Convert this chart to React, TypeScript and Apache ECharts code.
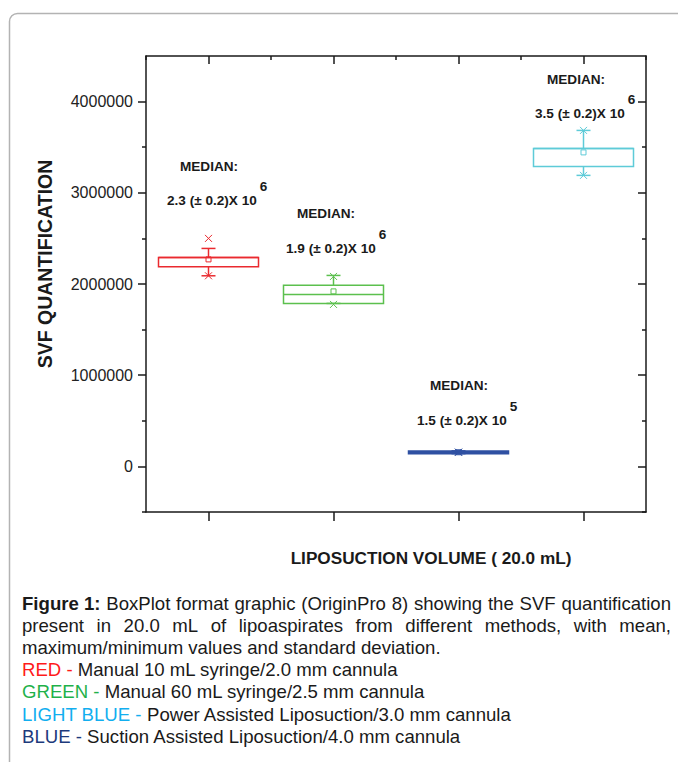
import React, { useEffect, useRef } from 'react';
import * as echarts from 'echarts';

// ---- data ----
const categories = ['RED', 'GREEN', 'BLUE', 'LIGHT BLUE'];
const boxColors = ['#ea2a2f', '#5cc04e', '#2f50a2', '#5ecbd8'];
const whiskerLow = [2090000, 1787000, 140000, 3191000];
const q1 = [2190000, 1787000, 140000, 3289000];
const median = [2290000, 1886000, 155000, 3487000];
const q3 = [2290000, 1985000, 170000, 3487000];
const whiskerHigh = [2390000, 2094000, 170000, 3684000];
const means = [2270000, 1919000, 155000, 3443000];
const minMarks = [2090000, 1776000, 155000, 3191000];
const maxMarks = [2500000, 2083000, 155000, 3684000];

const yMin = -500000;
const yMax = 4500000;
const majorTicks = [0, 1000000, 2000000, 3000000, 4000000];
const minorTicks = [-500000, 500000, 1500000, 2500000, 3500000];

const medianValues = ['2.3', '1.9', '1.5', '3.5'];
const medianExponents = ['6', '6', '5', '6'];

const captionLine1 = 'BoxPlot format graphic (OriginPro 8) showing the SVF quantification';
const captionLine2 = 'present in 20.0 mL of lipoaspirates from different methods, with mean,';
const captionLine3 = 'maximum/minimum values and standard deviation.';
const legendNames = ['RED', 'GREEN', 'LIGHT BLUE', 'BLUE'];
const legendDescs = [
  'Manual 10 mL syringe/2.0 mm cannula',
  'Manual 60 mL syringe/2.5 mm cannula',
  'Power Assisted Liposuction/3.0 mm cannula',
  'Suction Assisted Liposuction/4.0 mm cannula',
];
const legendColors = ['#ff1a1a', '#1fb14a', '#12aeef', '#1d3a7c'];

// ---- layout / style ----
const FF = '"Liberation Sans", Arial, sans-serif';
const CAP_FS = 18.6;
const NOTE_FS = 13.6;
const AXIS_COLOR = '#1a1a1a';
// annotation positions (pixel layout of the text notes)
const notePos = [
  { mx: 209, my: 166, lx: 167, ly: 200 },
  { mx: 326, my: 213, lx: 286, ly: 248 },
  { mx: 459, my: 385, lx: 417, ly: 420 },
  { mx: 576, my: 79, lx: 535, ly: 113 },
];

function measure(text: string, font: string) {
  const c = document.createElement('canvas').getContext('2d') as CanvasRenderingContext2D;
  c.font = font;
  return c.measureText(text).width;
}

function justifyLine(words: { t: string; bold?: boolean }[], x0: number, x1: number, y: number) {
  const fonts = words.map((w) => `${w.bold ? 'bold ' : ''}${CAP_FS}px ${FF}`);
  const widths = words.map((w, i) => measure(w.t, fonts[i]));
  const total = widths.reduce((a, b) => a + b, 0);
  const gap = (x1 - x0 - total) / (words.length - 1);
  let x = x0;
  return words.map((w, i) => {
    const el = {
      type: 'text',
      x,
      y,
      style: {
        text: w.t,
        font: fonts[i],
        fill: '#1a1a1a',
        textAlign: 'left',
        textVerticalAlign: 'middle',
      },
    };
    x += widths[i] + gap;
    return el;
  });
}

export default function App() {
  const ref = useRef<HTMLDivElement>(null);
  useEffect(() => {
    document.body.style.margin = '0';
    const chart = echarts.init(ref.current as HTMLDivElement, null, { renderer: 'svg' });

    const data = categories.map((_, i) => [
      i,
      whiskerLow[i],
      q1[i],
      median[i],
      q3[i],
      whiskerHigh[i],
      means[i],
      minMarks[i],
      maxMarks[i],
    ]);

    const cross = (cx: number, cy: number, s: number, color: string) => [
      { type: 'line', shape: { x1: cx - s, y1: cy - s, x2: cx + s, y2: cy + s }, style: { stroke: color, lineWidth: 1 } },
      { type: 'line', shape: { x1: cx - s, y1: cy + s, x2: cx + s, y2: cy - s }, style: { stroke: color, lineWidth: 1 } },
    ];

    const renderItem = (params: any, api: any) => {
      const i = params.dataIndex;
      const cat = api.value(0);
      const color = boxColors[i];
      const band = api.size([1, 0])[0];
      const bw = band * 0.8;
      const cx = api.coord([cat, 0])[0];
      const py = (v: number) => api.coord([cat, v])[1];
      const yWl = py(api.value(1));
      const yQ1 = py(api.value(2));
      const yMed = py(api.value(3));
      const yQ3 = py(api.value(4));
      const yWh = py(api.value(5));
      const yMean = py(api.value(6));
      const yMn = py(api.value(7));
      const yMx = py(api.value(8));
      const capHalf = 7;
      const st = { stroke: color, lineWidth: 1.5, fill: null };
      const children: any[] = [
        { type: 'line', shape: { x1: cx, y1: yQ3, x2: cx, y2: yWh }, style: st },
        { type: 'line', shape: { x1: cx, y1: yQ1, x2: cx, y2: yWl }, style: st },
        { type: 'line', shape: { x1: cx - capHalf, y1: yWh, x2: cx + capHalf, y2: yWh }, style: st },
        { type: 'line', shape: { x1: cx - capHalf, y1: yWl, x2: cx + capHalf, y2: yWl }, style: st },
        {
          type: 'rect',
          shape: { x: cx - bw / 2, y: yQ3, width: bw, height: yQ1 - yQ3 },
          style: { stroke: color, lineWidth: 1.5, fill: i === 2 ? color : 'rgba(255,255,255,0)' },
        },
        { type: 'line', shape: { x1: cx - bw / 2, y1: yMed, x2: cx + bw / 2, y2: yMed }, style: st },
        {
          type: 'rect',
          shape: { x: cx - 2.5, y: yMean - 2.5, width: 5, height: 5 },
          style: { stroke: color, lineWidth: 1, fill: 'rgba(255,255,255,0)' },
        },
        ...cross(cx, yMn, 3.5, color),
        ...cross(cx, yMx, 3.5, color),
      ];
      return { type: 'group', children };
    };

    const noteGraphics: any[] = [];
    notePos.forEach((p, i) => {
      const line2 = `${medianValues[i]} (± 0.2)X 10`;
      const fN = `bold ${NOTE_FS}px ${FF}`;
      const w2 = measure(line2, fN);
      noteGraphics.push({
        type: 'text',
        x: p.mx,
        y: p.my,
        style: { text: 'MEDIAN:', font: fN, fill: '#1a1a1a', textAlign: 'center', textVerticalAlign: 'middle' },
      });
      noteGraphics.push({
        type: 'text',
        x: p.lx,
        y: p.ly,
        style: { text: line2, font: fN, fill: '#1a1a1a', textAlign: 'left', textVerticalAlign: 'middle' },
      });
      noteGraphics.push({
        type: 'text',
        x: p.lx + w2 + 3,
        y: p.ly - 14,
        style: { text: medianExponents[i], font: fN, fill: '#1a1a1a', textAlign: 'left', textVerticalAlign: 'middle' },
      });
    });

    const captionGraphics: any[] = [
      ...justifyLine(
        [{ t: 'Figure 1:', bold: true }, ...captionLine1.split(' ').map((t) => ({ t }))],
        22,
        671,
        603
      ),
      ...justifyLine(captionLine2.split(' ').map((t) => ({ t })), 22, 671, 625),
      {
        type: 'text',
        x: 22,
        y: 647,
        style: { text: captionLine3, font: `${CAP_FS}px ${FF}`, fill: '#1a1a1a', textAlign: 'left', textVerticalAlign: 'middle' },
      },
      ...legendNames.map((n, i) => ({
        type: 'text',
        x: 22,
        y: 669 + i * 22.6,
        style: {
          text: `{a|${n} - }{b|${legendDescs[i]}}`,
          rich: {
            a: { fill: legendColors[i], font: `${CAP_FS}px ${FF}` },
            b: { fill: '#1a1a1a', font: `${CAP_FS}px ${FF}` },
          },
          font: `${CAP_FS}px ${FF}`,
          textAlign: 'left',
          textVerticalAlign: 'middle',
        },
      })),
    ];

    const yBase = {
      type: 'value',
      min: yMin,
      max: yMax,
      splitLine: { show: false },
    };

    const option: any = {
      animation: false,
      backgroundColor: '#ffffff',
      grid: { left: 146, right: 32, top: 56, bottom: 250, containLabel: false },
      xAxis: [
        {
          type: 'category',
          data: categories,
          position: 'bottom',
          axisLine: { show: true, onZero: false, lineStyle: { color: AXIS_COLOR, width: 1.5 } },
          axisTick: { show: true, alignWithLabel: true, inside: false, length: 9, lineStyle: { color: AXIS_COLOR, width: 1.5 } },
          axisLabel: { show: false },
          splitLine: { show: false },
        },
        {
          type: 'category',
          data: categories,
          position: 'top',
          axisLine: { show: true, onZero: false, lineStyle: { color: AXIS_COLOR, width: 1.5 } },
          axisTick: { show: true, alignWithLabel: true, inside: true, length: 8, lineStyle: { color: AXIS_COLOR, width: 1.5 } },
          axisLabel: { show: false },
          splitLine: { show: false },
        },
        {
          type: 'category',
          data: categories,
          position: 'top',
          axisLine: { show: false, onZero: false },
          axisTick: { show: true, alignWithLabel: false, inside: true, length: 4, lineStyle: { color: AXIS_COLOR, width: 1.5 } },
          axisLabel: { show: false },
          splitLine: { show: false },
        },
      ],
      yAxis: [
        {
          ...yBase,
          position: 'left',
          axisLine: { show: true, onZero: false, lineStyle: { color: AXIS_COLOR, width: 1.5 } },
          axisTick: { show: true, inside: false, length: 8, customValues: majorTicks, lineStyle: { color: AXIS_COLOR, width: 1.5 } },
          axisLabel: {
            show: true,
            customValues: majorTicks,
            margin: 13,
            color: '#222',
            fontSize: 16,
            fontFamily: FF,
            formatter: (v: number) => String(v),
          },
        },
        {
          ...yBase,
          position: 'left',
          axisLine: { show: false, onZero: false },
          axisTick: { show: true, inside: false, length: 4, customValues: minorTicks, lineStyle: { color: AXIS_COLOR, width: 1.5 } },
          axisLabel: { show: false },
        },
        {
          ...yBase,
          position: 'right',
          axisLine: { show: true, onZero: false, lineStyle: { color: AXIS_COLOR, width: 1.5 } },
          axisTick: { show: true, inside: true, length: 8, customValues: majorTicks, lineStyle: { color: AXIS_COLOR, width: 1.5 } },
          axisLabel: { show: false },
        },
        {
          ...yBase,
          position: 'right',
          axisLine: { show: false, onZero: false },
          axisTick: { show: true, inside: true, length: 4, customValues: minorTicks, lineStyle: { color: AXIS_COLOR, width: 1.5 } },
          axisLabel: { show: false },
        },
      ],
      series: [
        {
          type: 'custom',
          xAxisIndex: 0,
          yAxisIndex: 0,
          renderItem,
          encode: { x: 0, y: [1, 2, 3, 4, 5, 6, 7, 8] },
          data,
          clip: false,
        },
      ],
      graphic: [
        {
          type: 'rect',
          shape: { x: 9.5, y: 13.5, width: 720, height: 800, r: 8 },
          style: { stroke: '#b3b3b3', lineWidth: 1.5, fill: 'rgba(0,0,0,0)' },
          silent: true,
        },
        {
          type: 'text',
          x: 45,
          y: 264,
          rotation: Math.PI / 2,
          style: {
            text: 'SVF QUANTIFICATION',
            font: `bold 19.5px ${FF}`,
            fill: '#1a1a1a',
            textAlign: 'center',
            textVerticalAlign: 'middle',
          },
        },
        {
          type: 'text',
          x: 431,
          y: 558,
          style: {
            text: 'LIPOSUCTION VOLUME ( 20.0 mL)',
            font: `bold 17.2px ${FF}`,
            fill: '#1a1a1a',
            textAlign: 'center',
            textVerticalAlign: 'middle',
          },
        },
        ...noteGraphics,
        ...captionGraphics,
      ],
    };

    chart.setOption(option);
    return () => chart.dispose();
  }, []);

  return <div ref={ref} style={{ position: 'absolute', left: 0, top: 0, width: 678, height: 762 }} />;
}
